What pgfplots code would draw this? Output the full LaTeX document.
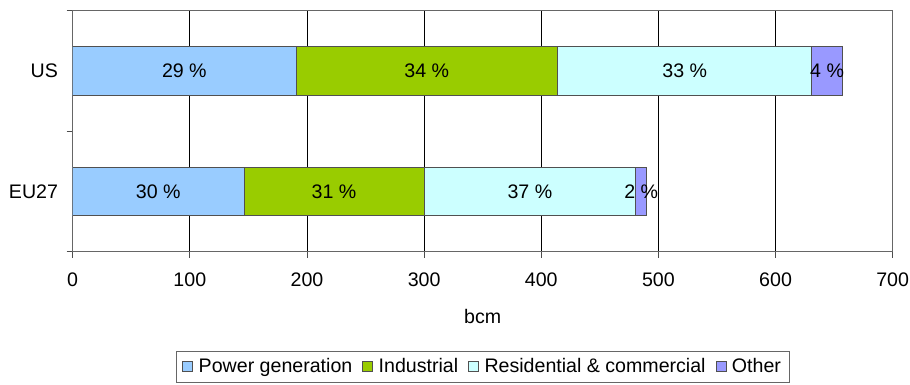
\documentclass[border=0pt]{standalone}
\usepackage{fontspec}
\setmainfont{Liberation Sans}
\usepackage{pgfplots}
\pgfplotsset{compat=1.18}
\definecolor{cPow}{HTML}{99CCFF}
\definecolor{cInd}{HTML}{99CC00}
\definecolor{cRes}{HTML}{CCFFFF}
\definecolor{cOth}{HTML}{9999FF}
\definecolor{cEdge}{HTML}{505050}
\begin{document}
\fontsize{19.6}{23}\selectfont
\begin{tikzpicture}
\useasboundingbox (0pt,0pt) rectangle (910pt,385pt);
\begin{axis}[
  at={(72.7pt,133.3pt)}, anchor=south west,
  scale only axis, width=820pt, height=241pt,
  xbar stacked, bar width=48.7pt,
  xmin=0, xmax=700, ymin=-0.5, ymax=1.5,
  xtick={0,100,...,700},
  ytick={0,1}, yticklabels={EU27,US},
  minor ytick={-0.5,0.5,1.5},
  xtick pos=bottom, ytick pos=left,
  tick align=outside, major tick length=6pt, minor tick length=6pt,
  major y tick style={draw=none},
  tick style={black!70, line width=0.8pt},
  xmajorgrids, grid style={black, line width=0.8pt},
  axis line style={black!60, line width=0.8pt},
  /pgf/number format/assume math mode=true,
  xticklabel style={anchor=center, yshift=-22pt},
  yticklabel style={anchor=east, xshift=-2pt},
  xlabel={bcm},
  xlabel style={at={(axis description cs:0.5,-0.2697)}, anchor=center},
  legend columns=4,
  legend style={at={(axis description cs:0.5,-0.41)}, anchor=north, draw=black!60, line width=0.8pt,
    inner xsep=6pt, inner ysep=5pt, nodes={inner sep=2pt},
    /tikz/every odd column/.append style={column sep=3.7pt},
    /tikz/every even column/.append style={column sep=8pt}},
  legend image code/.code={\draw[#1, draw=cEdge, line width=0.6pt] (0pt,-5pt) rectangle (10pt,5pt);},
]
\addplot[fill=cPow, draw=cEdge, line width=0.8pt] coordinates {(146.2,0) (190.6,1)};
\addplot[fill=cInd, draw=cEdge, line width=0.8pt] coordinates {(153.8,0) (223.4,1)};
\addplot[fill=cRes, draw=cEdge, line width=0.8pt] coordinates {(180.6,0) (217.0,1)};
\addplot[fill=cOth, draw=cEdge, line width=0.8pt] coordinates {(9.4,0) (26.1,1)};
\legend{Power generation, Industrial, Residential \& commercial, Other}
\end{axis}
% overlay axis for the share labels, centred in each segment
\begin{axis}[
  at={(72.7pt,133.3pt)}, anchor=south west,
  scale only axis, width=820pt, height=241pt,
  xmin=0, xmax=700, ymin=-0.5, ymax=1.5,
  hide axis,
  point meta=explicit symbolic,
  nodes near coords,
  nodes near coords align={center},
  every node near coord/.append style={anchor=center, text=black, inner sep=0pt},
]
\addplot[only marks, mark=none] coordinates {
  (95.3,1) [29 \%] (302.3,1) [34 \%] (522.5,1) [33 \%] (644.0,1) [4 \%]
  (73.1,0) [30 \%] (223.1,0) [31 \%] (390.3,0) [37 \%] (485.3,0) [2 \%]
};
\end{axis}
\end{tikzpicture}
\end{document}
